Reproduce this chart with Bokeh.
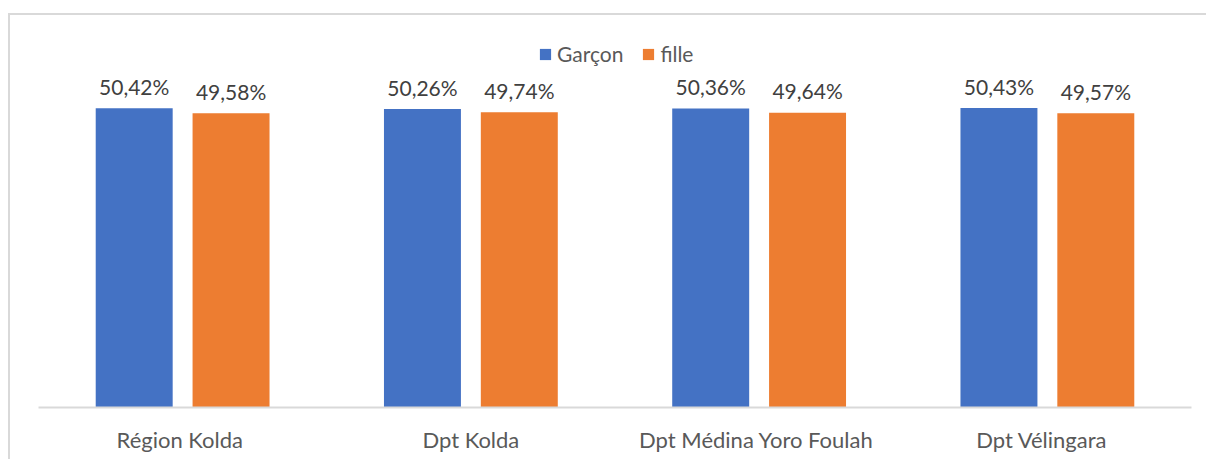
from bokeh.plotting import figure
from bokeh.models import ColumnDataSource, FactorRange, Range1d, Legend, LegendItem
from bokeh.transform import dodge
from bokeh.core.properties import value
from bokeh.embed import file_html
from bokeh.resources import INLINE

categories = ["Région  Kolda", "Dpt Kolda", "Dpt  Médina Yoro Foulah", "Dpt   Vélingara"]
garcon = [50.42, 50.26, 50.36, 50.43]
fille = [49.58, 49.74, 49.64, 49.57]
series_names = ["Garçon", "fille"]

def fmt(v):
    return ("%.2f%%" % v).replace(".", ",")

src = ColumnDataSource(dict(
    cat=categories,
    garcon=garcon,
    fille=fille,
    glab=[fmt(v) for v in garcon],
    flab=[fmt(v) for v in fille],
))

BLUE = "#4472C4"
ORANGE = "#ED7D31"
FONT = "Lato"

W, H = 1198, 446
p = figure(
    x_range=FactorRange(factors=categories, range_padding=0),
    y_range=Range1d(0, 63.5),
    width=W, height=H,
    output_backend="svg", toolbar_location=None,
    y_axis_location=None,
    min_border_left=28, min_border_right=W - 1181, min_border_top=15, min_border_bottom=H - 392,
)
p.margin = (13, 0, 0, 8)
p.styles = {"border-top": "2px solid #d9d9d9", "border-left": "2px solid #d9d9d9"}
p.outline_line_color = None
p.xgrid.visible = False
p.ygrid.visible = False

off = 0.168
w = 0.267
rb = p.vbar(x=dodge("cat", -off, range=p.x_range), top="garcon", width=w, source=src,
            fill_color=BLUE, line_color=None)
ro = p.vbar(x=dodge("cat", off, range=p.x_range), top="fille", width=w, source=src,
            fill_color=ORANGE, line_color=None)

for col, lab, dx in (("garcon", "glab", -off), ("fille", "flab", off)):
    p.text(x=dodge("cat", dx, range=p.x_range), y=col, text=lab, source=src,
           text_align="center", text_baseline="alphabetic", y_offset=-22,
           text_font=value(FONT), text_font_size="21px", text_color="#404040")

ax = p.xaxis[0]
ax.axis_line_color = "#d9d9d9"
ax.axis_line_width = 2
ax.major_tick_line_color = None
ax.minor_tick_line_color = None
ax.major_tick_out = 0
ax.major_tick_in = 0
ax.major_label_standoff = 18
ax.major_label_text_font = FONT
ax.major_label_text_font_size = "22px"
ax.major_label_text_color = "#595959"

legend = Legend(
    items=[LegendItem(label=series_names[0], renderers=[rb]),
           LegendItem(label=series_names[1], renderers=[ro])],
    orientation="horizontal",
    location=(500, 341),
    padding=0, margin=0, spacing=18,
    glyph_width=14, glyph_height=14, label_standoff=5,
    label_text_font=FONT, label_text_font_size="21px", label_text_color="#595959",
    border_line_color=None, background_fill_alpha=0,
)
p.add_layout(legend)

open("out.html", "w").write(file_html(p, INLINE))
